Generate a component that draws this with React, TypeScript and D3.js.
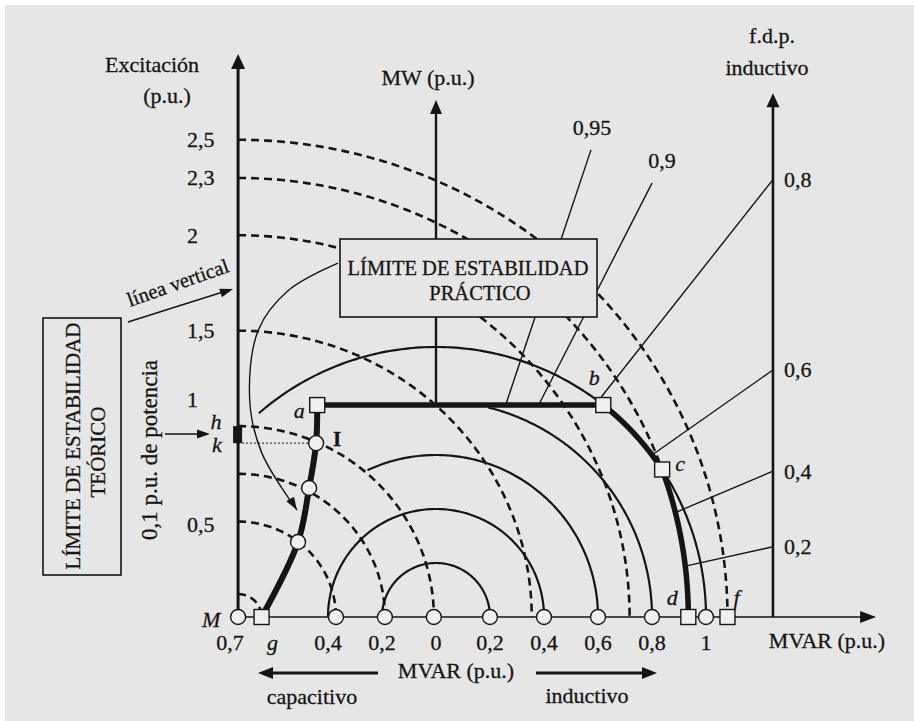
import React from "react";
import * as d3 from "d3";

// excitation circles (p.u.), centred on M
const EXCITATION = [0.12, 0.5, 0.75, 1, 1.5, 2, 2.3, 2.5];
const EXC_LABELS = ["", "0,5", "", "1", "1,5", "2", "2,3", "2,5"];
// MVA circles, centred on the origin, and the angle each one starts from
const MVA_RADII = [0.2, 0.4, 0.6, 0.8, 1.0];
const MVA_START_DEG = [180, 180, 115, 76, 131];
const MVAR_TICKS = [-0.4, -0.2, 0, 0.2, 0.4, 0.6, 0.8, 1];
const MVAR_LABELS = ["0,4", "0,2", "0", "0,2", "0,4", "0,6", "0,8", "1"];
// power factor lines
const PF_VALUES = [0.95, 0.9, 0.8, 0.6, 0.4, 0.2];
const PF_LABELS = ["0,95", "0,9", "0,8", "0,6", "0,4", "0,2"];
const PF_AXIS_MW = [NaN, NaN, 1.62, 0.915, 0.54, 0.26];
// practical stability limit g -> a
const STAB_MVAR = [-0.646, -0.511, -0.47, -0.444, -0.44];
const STAB_MW = [0, 0.278, 0.478, 0.644, 0.785];
const Q_M = -0.733; // theoretical limit, vertical line through M
const P_TURBINE = 0.785;
const E_FIELD = 2.3;
const Q_RIGHT = 1.248;

// where the two upper pf leaders start (MVAR, MW)
const PF_LEADER_FROM: Record<string, [number, number]> = {
  "0,95": [0.574, 1.73],
  "0,9": [0.8, 1.607],
};
// thin curved arrow from the "práctico" box down to the curve
const CURVE_ARROW: [number, number][] = [
  [-0.363, 1.311],
  [-0.545, 1.211],
  [-0.658, 1.063],
  [-0.69, 0.804],
  [-0.645, 0.607],
  [-0.515, 0.396],
];
const LABEL_NUDGE: Record<string, number> = { "1": -27, "0,5": 3 };

const FONT = "'Liberation Serif', 'Times New Roman', serif";
const INK = "#151515";
const BG = "#e6e6e6";

type Pt = [number, number];

function Head({ tip, dir, len = 14, hw = 6 }: { tip: Pt; dir: number; len?: number; hw?: number }) {
  const [tx, ty] = tip;
  const bx = tx - len * Math.cos(dir);
  const by = ty - len * Math.sin(dir);
  const px = -Math.sin(dir) * hw;
  const py = Math.cos(dir) * hw;
  return <path d={`M${tx},${ty}L${bx + px},${by + py}L${bx - px},${by - py}Z`} fill={INK} />;
}

const App = () => {
  const x = d3.scaleLinear().domain([0, 1]).range([436, 706]);
  const y = d3.scaleLinear().domain([0, 1]).range([617, 347]);
  // excitation -> ellipse half axes in MVAR / MW units
  const eq = d3.scaleLinear().domain([0, 1]).range([0, 0.725]);
  const ep = d3.scaleLinear().domain([0, 1]).range([0, 0.707]);
  const line = d3.line<Pt>().x((d) => x(d[0])).y((d) => y(d[1]));
  const px = (d: Pt): Pt => [x(d[0]), y(d[1])];

  const excPoint = (e: number, t: number): Pt => [Q_M + eq(e) * Math.cos(t), ep(e) * Math.sin(t)];
  const excArc = (e: number, t0: number, t1: number) =>
    d3.range(0, 161).map((i) => excPoint(e, t0 + ((t1 - t0) * i) / 160));
  const mvaArc = (r: number, t0: number, t1: number): Pt[] =>
    d3.range(0, 161).map((i) => {
      const t = t0 + ((t1 - t0) * i) / 160;
      return [r * Math.cos(t), r * Math.sin(t)];
    });

  // limit curve a-b-c-d
  const bAng = Math.asin(P_TURBINE);
  const b: Pt = [Math.cos(bAng), P_TURBINE];
  const fOut = (t: number) =>
    ((Math.cos(t) - Q_M) / eq(E_FIELD)) ** 2 + (Math.sin(t) / ep(E_FIELD)) ** 2 - 1;
  let lo = 0;
  let hi = bAng;
  for (let i = 0; i < 50; i++) {
    const mid = (lo + hi) / 2;
    if (fOut(mid) > 0) lo = mid;
    else hi = mid;
  }
  const cAng = (lo + hi) / 2;
  const c: Pt = [Math.cos(cAng), Math.sin(cAng)];
  const cT = Math.atan2(c[1] / ep(E_FIELD), (c[0] - Q_M) / eq(E_FIELD));
  const a: Pt = [STAB_MVAR[STAB_MVAR.length - 1], STAB_MW[STAB_MW.length - 1]];
  const d: Pt = excPoint(E_FIELD, 0);
  const f: Pt = excPoint(2.5, 0);
  const g: Pt = [STAB_MVAR[0], STAB_MW[0]];
  const limit: Pt[] = [a, b, ...mvaArc(1, bAng, cAng), ...excArc(E_FIELD, cT, 0)];
  const stab: Pt[] = STAB_MVAR.map((q, i) => [q, STAB_MW[i]]);
  const stabLine = d3
    .line<Pt>()
    .x((p) => x(p[0]))
    .y((p) => y(p[1]))
    .curve(d3.curveCatmullRom);

  const pfPoint = (pf: number): Pt => {
    const s = Math.sqrt(1 - pf * pf);
    const co = pf;
    const t1 = P_TURBINE / co;
    if (t1 * s <= b[0]) return [t1 * s, P_TURBINE];
    if (Math.atan2(co, s) >= cAng) return [s, co];
    const A = eq(E_FIELD) ** 2;
    const B = ep(E_FIELD) ** 2;
    const qa = (s * s) / A + (co * co) / B;
    const qb = (-2 * s * Q_M) / A;
    const qc = (Q_M * Q_M) / A - 1;
    const t = (-qb + Math.sqrt(qb * qb - 4 * qa * qc)) / (2 * qa);
    return [t * s, t * co];
  };

  const circles: Pt[] = [
    [Q_M, 0],
    ...[0.5, 0.75, 1].map((e) => excPoint(e, 0)),
    ...MVA_RADII.map((r): Pt => [r, 0]),
    ...stab.slice(1, 4),
  ];
  const squares: Pt[] = [g, a, b, c, d, f];

  const txt = { fontFamily: FONT, fill: INK, fontSize: 22, stroke: INK, strokeWidth: 0.3 } as const;
  const it = { ...txt, fontStyle: "italic" } as const;

  const pA = px(a), pB = px(b), pC = px(c), pD = px(d), pF = px(f), pG = px(g), pM = px([Q_M, 0]);
  const pI = px(stab[3]);
  const curvePts = CURVE_ARROW.map(px);
  const cl = curvePts[curvePts.length - 1];
  const cp = curvePts[curvePts.length - 2];

  return (
    <svg width={914} height={721} style={{ position: "absolute", left: 0, top: 0 }}>
      <rect width={914} height={721} fill="#fff" />
      <rect x={5} y={5} width={909} height={716} fill={BG} />

      {/* excitation circles */}
      {EXCITATION.map((e, i) => (
        <path
          key={"e" + i}
          d={line(excArc(e, Math.PI / 2, 0)) || ""}
          fill="none"
          stroke={INK}
          strokeWidth={2.6}
          strokeDasharray="8 5"
        />
      ))}
      {/* MVA circles */}
      {MVA_RADII.map((r, i) => (
        <path
          key={"r" + i}
          d={line(mvaArc(r, (MVA_START_DEG[i] * Math.PI) / 180, 0)) || ""}
          fill="none"
          stroke={INK}
          strokeWidth={2.2}
        />
      ))}

      {/* axes */}
      <line x1={pM[0]} y1={y(0)} x2={x(1.6)} y2={y(0)} stroke={INK} strokeWidth={1.5} />
      <Head tip={[x(1.63), y(0)]} dir={0} len={16} hw={6} />
      <line x1={pM[0]} y1={y(0)} x2={pM[0]} y2={y(2.03)} stroke={INK} strokeWidth={3} />
      <Head tip={[pM[0], y(2.085)]} dir={-Math.PI / 2} len={15} hw={7} />
      <line x1={x(0)} y1={y(P_TURBINE)} x2={x(0)} y2={y(1.87)} stroke={INK} strokeWidth={2.4} />
      <Head tip={[x(0), y(1.915)]} dir={-Math.PI / 2} len={14} hw={6} />
      <line x1={x(Q_RIGHT)} y1={y(0)} x2={x(Q_RIGHT)} y2={y(1.9)} stroke={INK} strokeWidth={2.6} />
      <Head tip={[x(Q_RIGHT), y(1.94)]} dir={-Math.PI / 2} len={14} hw={6.5} />

      {/* margin mark h-k and dotted line to I */}
      <rect
        x={pM[0] - 5}
        y={y(ep(1))}
        width={9}
        height={y(stab[3][1]) - y(ep(1))}
        fill={INK}
      />
      <line
        x1={pM[0]}
        y1={pI[1]}
        x2={pI[0]}
        y2={pI[1]}
        stroke={INK}
        strokeWidth={1}
        strokeDasharray="2 2"
      />

      {/* power factor leaders */}
      {PF_VALUES.map((pf, i) => {
        const from: Pt = isNaN(PF_AXIS_MW[i]) ? PF_LEADER_FROM[PF_LABELS[i]] : [Q_RIGHT, PF_AXIS_MW[i]];
        const to = pfPoint(pf);
        return (
          <line
            key={"pf" + i}
            x1={x(from[0])}
            y1={y(from[1])}
            x2={x(to[0])}
            y2={y(to[1])}
            stroke={INK}
            strokeWidth={1.4}
          />
        );
      })}

      {/* operating limit */}
      <path d={stabLine(stab) || ""} fill="none" stroke={INK} strokeWidth={6} strokeLinejoin="round" />
      <path d={line(limit) || ""} fill="none" stroke={INK} strokeWidth={5.5} strokeLinejoin="round" />

      {/* boxes */}
      <rect x={340} y={239} width={257} height={78} fill={BG} stroke={INK} strokeWidth={1.6} />
      <text {...txt} fontSize={20.5} x={468} y={275} textAnchor="middle">
        LÍMITE DE ESTABILIDAD
      </text>
      <text {...txt} fontSize={20.5} x={480} y={300} textAnchor="middle">
        PRÁCTICO
      </text>
      <rect x={43} y={318} width={78} height={257} fill={BG} stroke={INK} strokeWidth={1.6} />
      <text {...txt} fontSize={21} transform="translate(80,446) rotate(-90)" textAnchor="middle">
        LÍMITE DE ESTABILIDAD
      </text>
      <text {...txt} fontSize={21} transform="translate(105,452) rotate(-90)" textAnchor="middle">
        TEÓRICO
      </text>

      {/* curved arrow from the box */}
      <path
        d={d3.line().curve(d3.curveCatmullRom)(curvePts) || ""}
        fill="none"
        stroke={INK}
        strokeWidth={1.4}
      />
      <Head tip={cl} dir={Math.atan2(cl[1] - cp[1], cl[0] - cp[0])} len={13} hw={4.5} />

      {/* linea vertical arrow */}
      <line x1={128} y1={322} x2={226} y2={291} stroke={INK} strokeWidth={1.5} />
      <Head tip={[233, 289]} dir={Math.atan2(-33, 104)} len={13} hw={4.5} />
      <text {...txt} fontSize={20.5} transform="translate(130,307) rotate(-19.5)">
        línea vertical
      </text>

      {/* 0,1 p.u. arrow */}
      <line x1={165} y1={434} x2={200} y2={434} stroke={INK} strokeWidth={1.5} />
      <Head tip={[210, 434]} dir={0} len={13} hw={4.5} />
      <text {...txt} fontSize={23} transform="translate(157,450) rotate(-90)" textAnchor="middle">
        0,1 p.u. de potencia
      </text>

      {/* markers */}
      {circles.map((p, i) => (
        <circle key={"c" + i} cx={x(p[0])} cy={y(p[1])} r={7.5} fill="#efefef" stroke={INK} strokeWidth={1.4} />
      ))}
      {squares.map((p, i) => (
        <rect
          key={"s" + i}
          x={x(p[0]) - 7.5}
          y={y(p[1]) - 7.5}
          width={15}
          height={15}
          fill="#efefef"
          stroke={INK}
          strokeWidth={1.4}
        />
      ))}

      {/* excitation labels */}
      {EXCITATION.map((e, i) =>
        EXC_LABELS[i] ? (
          <text key={"el" + i} {...txt} x={187} y={y(ep(e)) + 7.5 + (LABEL_NUDGE[EXC_LABELS[i]] || 0)}>
            {EXC_LABELS[i]}
          </text>
        ) : null
      )}
      {/* MVAR tick labels */}
      {MVAR_TICKS.map((v, i) => (
        <text key={"t" + i} {...txt} x={x(v)} y={650} textAnchor="middle">
          {MVAR_LABELS[i]}
        </text>
      ))}
      <text {...txt} x={pM[0] - 8} y={650} textAnchor="middle">
        0,7
      </text>
      {/* pf labels */}
      {PF_VALUES.map((pf, i) => {
        if (isNaN(PF_AXIS_MW[i])) {
          const from = PF_LEADER_FROM[PF_LABELS[i]];
          return (
            <text key={"pl" + i} {...txt} x={x(from[0]) + (i === 0 ? 1 : 10)} y={y(from[1]) - 15} textAnchor="middle">
              {PF_LABELS[i]}
            </text>
          );
        }
        return (
          <text key={"pl" + i} {...txt} x={784} y={y(PF_AXIS_MW[i]) + 7.5}>
            {PF_LABELS[i]}
          </text>
        );
      })}

      {/* point letters */}
      <text {...it} x={pM[0] - 27} y={627} textAnchor="middle">M</text>
      <text {...it} x={pG[0] + 11} y={650} textAnchor="middle">g</text>
      <text {...it} x={pA[0] - 18} y={pA[1] + 13} textAnchor="middle">a</text>
      <text {...it} x={pB[0] - 9} y={pB[1] - 20} textAnchor="middle">b</text>
      <text {...it} x={pC[0] + 18} y={pC[1] + 2} textAnchor="middle">c</text>
      <text {...it} x={pD[0] - 16} y={pD[1] - 12} textAnchor="middle">d</text>
      <text {...it} x={pF[0] + 9} y={pF[1] - 12} textAnchor="middle">f</text>
      <text {...it} x={216} y={429} textAnchor="middle">h</text>
      <text {...it} x={217} y={452} textAnchor="middle">k</text>
      <text {...txt} fontWeight="bold" fontSize={21} x={pI[0] + 21} y={pI[1] + 3} textAnchor="middle">
        I
      </text>

      {/* axis titles */}
      <text {...txt} x={152} y={72} textAnchor="middle">Excitación</text>
      <text {...txt} x={167} y={103} textAnchor="middle">(p.u.)</text>
      <text {...txt} x={428} y={85} textAnchor="middle">MW (p.u.)</text>
      <text {...txt} x={772} y={43} textAnchor="middle">f.d.p.</text>
      <text {...txt} x={767} y={75} textAnchor="middle">inductivo</text>
      <text {...txt} x={827} y={648} textAnchor="middle">MVAR (p.u.)</text>

      {/* bottom direction arrows */}
      <line x1={378} y1={673} x2={268} y2={673} stroke={INK} strokeWidth={3} />
      <Head tip={[258, 673]} dir={Math.PI} len={15} hw={6} />
      <line x1={536} y1={673} x2={647} y2={673} stroke={INK} strokeWidth={3} />
      <Head tip={[657, 673]} dir={0} len={15} hw={6} />
      <text {...txt} x={456} y={678} textAnchor="middle">MVAR (p.u.)</text>
      <text {...txt} x={312} y={704} textAnchor="middle">capacitivo</text>
      <text {...txt} x={587} y={703} textAnchor="middle">inductivo</text>
    </svg>
  );
};

export default App;
